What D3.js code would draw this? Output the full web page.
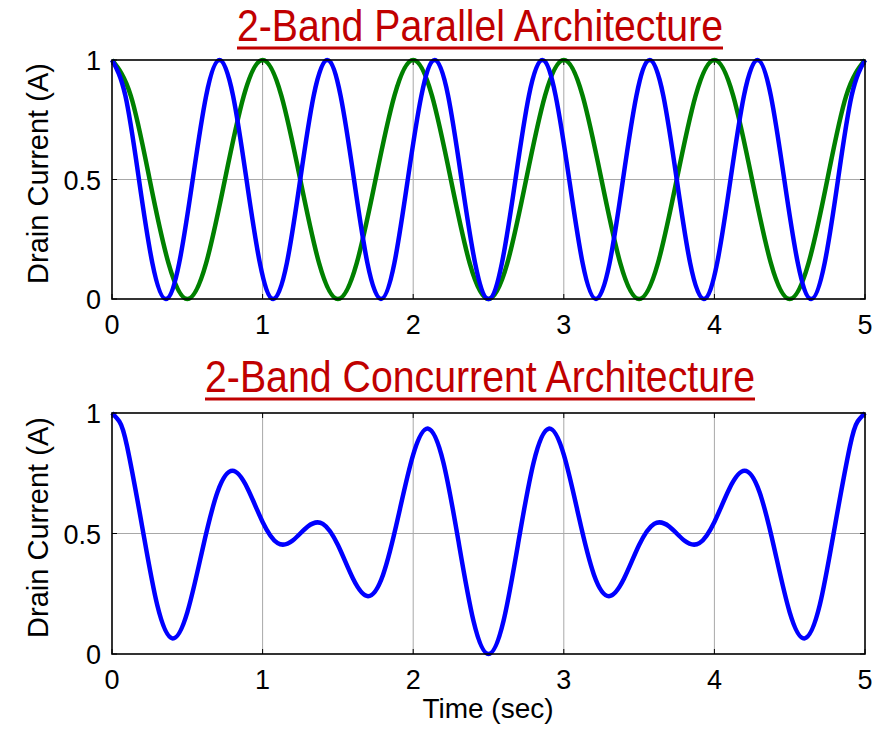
<!DOCTYPE html>
<html>
<head>
<meta charset="utf-8">
<script src="https://cdn.jsdelivr.net/npm/d3@7"></script>
<style>
  body { margin: 0; background: #fff; }
  svg { display: block; font-family: "Liberation Sans", Arial, sans-serif; }
</style>
</head>
<body>
<div id="chart"></div>
<script>
// Top panel: band 1 (blue) read at eighth-period points
const parBlueT = [0, 0.089, 0.179, 0.268, 0.357, 0.446, 0.536, 0.625, 0.714, 0.804, 0.893, 0.982,
    1.071, 1.161, 1.25, 1.339, 1.429, 1.518, 1.607, 1.696, 1.786, 1.875, 1.964, 2.054, 2.143,
    2.232, 2.321, 2.411, 2.5, 2.589, 2.679, 2.768, 2.857, 2.946, 3.036, 3.125, 3.214, 3.304,
    3.393, 3.482, 3.571, 3.661, 3.75, 3.839, 3.929, 4.018, 4.107, 4.196, 4.286, 4.375, 4.464,
    4.554, 4.643, 4.732, 4.821, 4.911, 5];
const parBlueI = [1, .85, .5, .15, 0, .15, .5, .85, 1, .85, .5, .15, 0, .15, .5, .85, 1, .85, .5, .15,
    0, .15, .5, .85, 1, .85, .5, .15, 0, .15, .5, .85, 1, .85, .5, .15, 0, .15, .5, .85, 1, .85, .5, .15,
    0, .15, .5, .85, 1, .85, .5, .15, 0, .15, .5, .85, 1];

// Top panel: band 2 (green)
const parGreenT = [0, .125, .25, .375, .5, .625, .75, .875, 1, 1.125, 1.25, 1.375, 1.5, 1.625, 1.75, 1.875,
    2, 2.125, 2.25, 2.375, 2.5, 2.625, 2.75, 2.875, 3, 3.125, 3.25, 3.375, 3.5, 3.625, 3.75, 3.875,
    4, 4.125, 4.25, 4.375, 4.5, 4.625, 4.75, 4.875, 5];
const parGreenI = [1, .85, .5, .15, 0, .15, .5, .85, 1, .85, .5, .15, 0, .15, .5, .85, 1, .85, .5, .15,
    0, .15, .5, .85, 1, .85, .5, .15, 0, .15, .5, .85, 1, .85, .5, .15, 0, .15, .5, .85, 1];

// Bottom panel: concurrent drain current
const conT = [0, 0.05, 0.1, 0.2, 0.3, 0.4, 0.5, 0.6, 0.7, 0.8, 0.9, 1.0, 1.1, 1.2, 1.3, 1.4, 1.5, 1.6, 1.7,
    1.8, 1.9, 2.0, 2.1, 2.2, 2.3, 2.4, 2.5, 2.6, 2.7, 2.8, 2.9, 3.0, 3.1, 3.2, 3.3, 3.4, 3.5, 3.6, 3.7,
    3.8, 3.9, 4.0, 4.1, 4.2, 4.3, 4.4, 4.5, 4.6, 4.7, 4.8, 4.9, 4.95, 5];
const conI = [1, .964, .862, .530, .204, .065, .173, .432, .671, .760, .687, .548, .460, .471, .529, .540,
    .452, .313, .240, .329, .568, .827, .935, .796, .470, .138, 0, .138, .470, .796, .935, .827, .568,
    .329, .240, .313, .452, .540, .529, .471, .460, .548, .687, .760, .671, .432, .173, .065, .204, .530,
    .862, .964, 1];

const xTicks = [0, 1, 2, 3, 4, 5];
const yTicks = [0, 0.5, 1];
const yTickLabels = ["0", "0.5", "1"];

const W = 879, H = 730;
const svg = d3.select("#chart").append("svg")
    .attr("width", W)
    .attr("height", H);

const x = d3.scaleLinear().domain([0, 5]).range([112, 865]);

function zip(ts, vs) {
    return ts.map((t, i) => ({ t: t, v: vs[i] }));
}

function panel(top, bottom, title, titleBase, titleLeft, titleLen, series) {
    const y = d3.scaleLinear().domain([0, 1]).range([bottom, top]);
    const g = svg.append("g");

    // grid
    g.selectAll("line.gx").data(xTicks.slice(1, -1)).enter().append("line")
        .attr("x1", d => x(d)).attr("x2", d => x(d))
        .attr("y1", top).attr("y2", bottom)
        .attr("stroke", "#a8a8a8").attr("stroke-width", 1);
    g.append("line")
        .attr("x1", x(0)).attr("x2", x(5))
        .attr("y1", y(0.5)).attr("y2", y(0.5))
        .attr("stroke", "#a8a8a8").attr("stroke-width", 1);

    // inner ticks
    const tl = 5;
    xTicks.forEach(d => {
        g.append("line").attr("x1", x(d)).attr("x2", x(d)).attr("y1", bottom).attr("y2", bottom - tl)
            .attr("stroke", "#000");
        g.append("line").attr("x1", x(d)).attr("x2", x(d)).attr("y1", top).attr("y2", top + tl)
            .attr("stroke", "#000");
    });
    yTicks.forEach(d => {
        g.append("line").attr("x1", x(0)).attr("x2", x(0) + tl).attr("y1", y(d)).attr("y2", y(d))
            .attr("stroke", "#000");
        g.append("line").attr("x1", x(5)).attr("x2", x(5) - tl).attr("y1", y(d)).attr("y2", y(d))
            .attr("stroke", "#000");
    });

    // curves
    const line = d3.line()
        .x(d => x(d.t))
        .y(d => y(d.v))
        .curve(d3.curveNatural);
    series.forEach(s => {
        g.append("path")
            .datum(zip(s.t, s.v))
            .attr("d", line)
            .attr("fill", "none")
            .attr("stroke", s.color)
            .attr("stroke-width", 4.5)
            .attr("stroke-linejoin", "round");
    });

    // frame
    g.append("rect")
        .attr("x", x(0)).attr("y", top)
        .attr("width", x(5) - x(0)).attr("height", bottom - top)
        .attr("fill", "none").attr("stroke", "#000").attr("stroke-width", 1.6);

    // tick labels
    g.selectAll("text.xt").data(xTicks).enter().append("text")
        .attr("x", d => x(d)).attr("y", bottom + 35)
        .attr("text-anchor", "middle")
        .attr("font-size", 27)
        .text(d => d);
    g.selectAll("text.yt").data(yTicks).enter().append("text")
        .attr("x", 101).attr("y", d => y(d) + 10)
        .attr("text-anchor", "end")
        .attr("font-size", 27)
        .text((d, i) => yTickLabels[i]);

    // y label
    g.append("text")
        .attr("transform", `translate(48,${(top + bottom) / 2 - 6}) rotate(-90)`)
        .attr("text-anchor", "middle")
        .attr("font-size", 29)
        .text("Drain Current (A)");

    // title, underlined
    g.append("text")
        .attr("x", titleLeft).attr("y", titleBase)
        .attr("font-family", "'Liberation Sans Narrow', 'Arial Narrow', sans-serif")
        .attr("font-size", 45)
        .attr("fill", "#c00000")
        .attr("textLength", titleLen)
        .attr("lengthAdjust", "spacingAndGlyphs")
        .text(title);
    g.append("line")
        .attr("x1", titleLeft).attr("x2", titleLeft + titleLen)
        .attr("y1", titleBase + 7).attr("y2", titleBase + 7)
        .attr("stroke", "#c00000").attr("stroke-width", 3);
}

panel(60, 299, "2-Band Parallel Architecture", 41, 237, 486, [
    { t: parGreenT, v: parGreenI, color: "#008000" },
    { t: parBlueT, v: parBlueI, color: "#0000ff" }
]);

panel(413, 654, "2-Band Concurrent Architecture", 392, 205, 550, [
    { t: conT, v: conI, color: "#0000ff" }
]);

svg.append("text")
    .attr("x", 488).attr("y", 718)
    .attr("text-anchor", "middle")
    .attr("font-size", 28)
    .text("Time (sec)");
</script>
</body>
</html>
